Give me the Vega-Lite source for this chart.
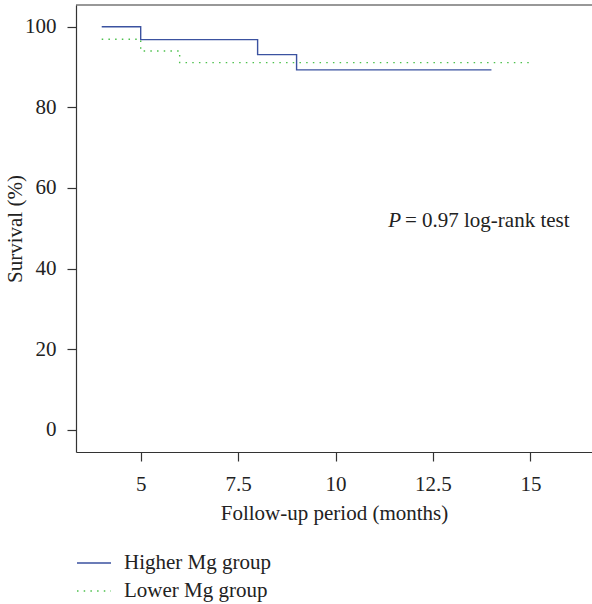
{
  "$schema": "https://vega.github.io/schema/vega-lite/v6.json",
  "autosize": {"type": "none"},
  "padding": {"left": 76, "top": 5, "right": 0, "bottom": 152},
  "width": 516,
  "height": 447,
  "config": {
    "view": {"stroke": null},
    "font": "Liberation Serif",
    "axis": {
      "labelFont": "Liberation Serif",
      "titleFont": "Liberation Serif",
      "labelFontSize": 21,
      "titleFontSize": 21,
      "titleFontWeight": "normal",
      "labelColor": "#222",
      "titleColor": "#222",
      "domainColor": "#333",
      "tickColor": "#333",
      "domainWidth": 1.2,
      "tickWidth": 1.2,
      "grid": false,
      "tickSize": 9
    },
    "legend": {
      "labelFont": "Liberation Serif",
      "labelFontSize": 21,
      "labelColor": "#222"
    }
  },
  "datasets": {
    "km": [
      {"time": 4, "survival": 100, "group": "Higher Mg group"},
      {"time": 5, "survival": 96.8, "group": "Higher Mg group"},
      {"time": 8, "survival": 93.1, "group": "Higher Mg group"},
      {"time": 9, "survival": 89.3, "group": "Higher Mg group"},
      {"time": 14, "survival": 89.3, "group": "Higher Mg group"},
      {"time": 4, "survival": 96.9, "group": "Lower Mg group"},
      {"time": 5, "survival": 94.0, "group": "Lower Mg group"},
      {"time": 6, "survival": 91.1, "group": "Lower Mg group"},
      {"time": 15, "survival": 91.1, "group": "Lower Mg group"}
    ]
  },
  "layer": [
    {
      "data": {"name": "km"},
      "mark": {"type": "line", "interpolate": "step-after", "strokeWidth": 1.4},
      "encoding": {
        "x": {
          "field": "time", "type": "quantitative",
          "scale": {"domain": [3.34, 16.58], "nice": false, "zero": false},
          "axis": {"values": [5, 7.5, 10, 12.5, 15], "format": ".1~f", "title": "Follow-up period (months)", "labelPadding": 12, "titlePadding": 8, "labelFlush": false}
        },
        "y": {
          "field": "survival", "type": "quantitative",
          "scale": {"domain": [-5.5, 105.4], "nice": false, "zero": false},
          "axis": {"values": [0, 20, 40, 60, 80, 100], "title": "Survival (%)", "labelPadding": 11, "titlePadding": -0.5}
        },
        "color": {
          "field": "group", "type": "nominal",
          "scale": {"domain": ["Higher Mg group", "Lower Mg group"], "range": ["#3b52a0", "#4cc04c"]},
          "legend": {
            "title": null, "orient": "none", "legendX": 0, "legendY": 540,
            "symbolType": "stroke", "symbolSize": 1156, "symbolStrokeWidth": 1.3,
            "labelOffset": 12, "padding": 0, "rowPadding": -1
          }
        },
        "strokeDash": {
          "field": "group", "type": "nominal",
          "scale": {"domain": ["Higher Mg group", "Lower Mg group"], "range": [[1, 0], [1.5, 5.2]]},
          "legend": null
        }
      }
    },
    {
      "data": {"values": [{}]},
      "mark": {"type": "rule", "color": "#333", "strokeWidth": 1.2},
      "encoding": {"y": {"datum": 105.4}}
    },
    {
      "data": {"values": [{}]},
      "mark": {"type": "text", "align": "left", "baseline": "alphabetic", "fontStyle": "italic", "fontSize": 21, "font": "Liberation Serif", "color": "#222", "text": "P"},
      "encoding": {"x": {"datum": 11.35}, "y": {"datum": 50.4}}
    },
    {
      "data": {"values": [{}]},
      "mark": {"type": "text", "align": "left", "baseline": "alphabetic", "fontSize": 21, "font": "Liberation Serif", "color": "#222", "text": "= 0.97 log-rank test"},
      "encoding": {"x": {"datum": 11.78}, "y": {"datum": 50.4}}
    }
  ]
}
